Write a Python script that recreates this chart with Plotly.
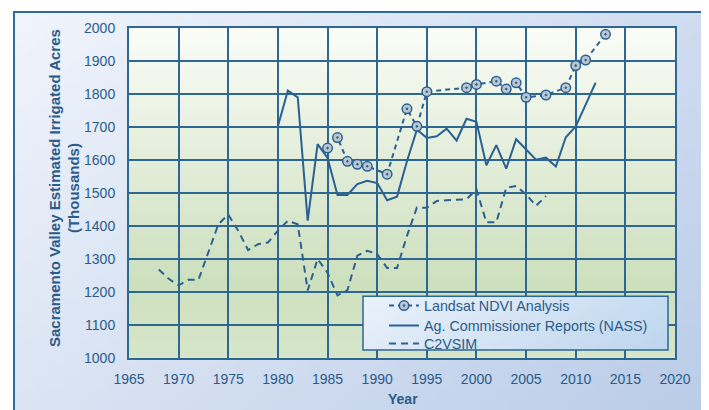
import base64
import struct
import zlib
import plotly.graph_objects as go

# ---------------- data ----------------
landsat_years = [1985, 1986, 1987, 1988, 1989, 1991, 1993, 1994, 1995, 1999,
                 2000, 2002, 2003, 2004, 2005, 2007, 2009, 2010, 2011, 2013]
landsat_acres = [1636, 1668, 1596, 1587, 1581, 1557, 1755, 1702, 1807, 1819,
                 1829, 1839, 1815, 1834, 1790, 1797, 1819, 1886, 1903, 1981]

nass_years = list(range(1980, 2013))
nass_acres = [1702, 1810, 1790, 1416, 1648, 1606, 1494, 1494, 1527, 1537,
              1530, 1478, 1489, 1596, 1692, 1667, 1672, 1695, 1659, 1725,
              1716, 1584, 1645, 1574, 1663, 1631, 1601, 1607, 1580, 1669,
              1702, 1768, 1834]

c2vsim_years = list(range(1968, 2008))
c2vsim_acres = [1268, 1240, 1220, 1237, 1237, 1320, 1405, 1435, 1386, 1327,
                1345, 1350, 1386, 1416, 1405, 1205, 1300, 1258, 1190, 1205,
                1310, 1325, 1315, 1273, 1273, 1370, 1456, 1455, 1476, 1478,
                1480, 1481, 1511, 1411, 1411, 1516, 1521, 1496, 1461, 1491]

x_ticks = [1965, 1970, 1975, 1980, 1985, 1990, 1995, 2000, 2005, 2010, 2015, 2020]
y_ticks = [1000, 1100, 1200, 1300, 1400, 1500, 1600, 1700, 1800, 1900, 2000]

series_names = ["Landsat NDVI Analysis", "Ag. Commissioner Reports (NASS)", "C2VSIM"]

# ---------------- styling helpers ----------------
OFF = 8                      # page body margin offset
W, H = 709 - OFF, 410 - OFF
PL, PR, PT, PB = 129, 675, 26, 358  # plot area in window pixels
FONT = "Liberation Sans, Arial, sans-serif"
BLUE = "#2b6192"
GRID = "#2f6793"
TEXT = "#2b5b88"


def px_x(p):
    return (p - PL) / (PR - PL)


def px_y(p):
    return (PB - p) / (PB - PT)


def lerp(c0, c1, t):
    t = max(0.0, min(1.0, t))
    return tuple(int(round(a + (b - a) * t)) for a, b in zip(c0, c1))


def png_uri(w, h, fn):
    raw = bytearray()
    for j in range(h):
        raw.append(0)
        for i in range(w):
            raw.extend(fn(i / (w - 1), j / (h - 1)))

    def chunk(tag, data):
        c = struct.pack(">I", len(data)) + tag + data
        return c + struct.pack(">I", zlib.crc32(tag + data) & 0xFFFFFFFF)

    png = (b"\x89PNG\r\n\x1a\n"
           + chunk(b"IHDR", struct.pack(">IIBBBBB", w, h, 8, 2, 0, 0, 0))
           + chunk(b"IDAT", zlib.compress(bytes(raw)))
           + chunk(b"IEND", b""))
    return "data:image/png;base64," + base64.b64encode(png).decode()


def paper_grad(u, v):
    return lerp((240, 244, 251), (186, 204, 232), 0.6 * u + 0.4 * v)


def plot_grad(u, v):
    if v < 0.78:
        return lerp((251, 252, 247), (205, 224, 190), v / 0.78)
    return lerp((205, 224, 190), (214, 230, 202), (v - 0.78) / 0.22)


def legend_grad(u, v):
    return lerp((234, 241, 250), (190, 215, 238), 0.8 * u + 0.2 * v)


fig = go.Figure()

fig.add_trace(go.Scatter(
    x=c2vsim_years, y=c2vsim_acres, mode="lines", name=series_names[2],
    line=dict(color=BLUE, width=2, dash="7px,5px"), legend="legend3"))
fig.add_trace(go.Scatter(
    x=nass_years, y=nass_acres, mode="lines", name=series_names[1],
    line=dict(color=BLUE, width=2), legend="legend2"))
fig.add_trace(go.Scatter(
    x=landsat_years, y=landsat_acres, mode="lines+markers", name=series_names[0],
    line=dict(color=BLUE, width=2, dash="5px,4px"),
    marker=dict(symbol="circle-dot", size=9.5, color="#bcc6d0",
                line=dict(color=BLUE, width=1.5)),
    legend="legend"))

# backgrounds
images = [
    dict(source=png_uri(48, 32, paper_grad), xref="paper", yref="paper",
         x=px_x(14), y=px_y(10), sizex=(703 - 14) / (PR - PL),
         sizey=(420 - 10) / (PB - PT), xanchor="left", yanchor="top",
         sizing="stretch", layer="below"),
    dict(source=png_uri(8, 48, plot_grad), xref="paper", yref="paper",
         x=0, y=1, sizex=1, sizey=1, xanchor="left", yanchor="top",
         sizing="stretch", layer="below"),
    dict(source=png_uri(32, 8, legend_grad), xref="paper", yref="paper",
         x=px_x(363), y=px_y(296), sizex=(668 - 363) / (PR - PL),
         sizey=(350 - 296) / (PB - PT), xanchor="left", yanchor="top",
         sizing="stretch", layer="above"),
]

shapes = [
    # outer frame
    dict(type="rect", xref="paper", yref="paper", x0=px_x(14), x1=px_x(703),
         y0=px_y(425), y1=px_y(10), line=dict(color="#2f6a9a", width=2),
         fillcolor="rgba(0,0,0,0)", layer="below"),
    # right shadow
    dict(type="rect", xref="paper", yref="paper", x0=px_x(704), x1=px_x(709),
         y0=px_y(425), y1=px_y(14), line=dict(width=0),
         fillcolor="rgba(150,150,150,0.35)", layer="below"),
    # legend frame
    dict(type="rect", xref="paper", yref="paper", x0=px_x(363), x1=px_x(668),
         y0=px_y(350), y1=px_y(296), line=dict(color=GRID, width=1.5),
         fillcolor="rgba(0,0,0,0)", layer="above"),
]

annotations = [
    dict(text="<b>Sacramento Valley Estimated Irrigated Acres<br>(Thousands)</b>",
         xref="paper", yref="paper", x=px_x(64), y=px_y(187), textangle=-90,
         xanchor="center", yanchor="middle", showarrow=False,
         font=dict(family=FONT, size=15, color=TEXT)),
    dict(text="<b>Year</b>", xref="paper", yref="paper", x=px_x(403), y=px_y(399),
         xanchor="center", yanchor="middle", showarrow=False,
         font=dict(family=FONT, size=14, color=TEXT)),
]


def legend_at(row_y):
    return dict(x=px_x(384), y=px_y(row_y), xanchor="left", yanchor="middle",
                bgcolor="rgba(0,0,0,0)", borderwidth=0,
                font=dict(family=FONT, size=14.3, color=TEXT), itemwidth=30)


fig.update_layout(
    width=W, height=H, autosize=False,
    margin=dict(l=PL - OFF, r=W - (PR - OFF), t=PT - OFF, b=H - (PB - OFF), pad=0),
    paper_bgcolor="white", plot_bgcolor="rgba(0,0,0,0)",
    font=dict(family=FONT, size=14, color=TEXT),
    images=images, shapes=shapes, annotations=annotations,
    showlegend=True,
    legend=legend_at(305.5),
    legend2=legend_at(325.5),
    legend3=legend_at(343.5),
    xaxis=dict(range=[1965, 2020], tickvals=x_ticks, ticktext=[str(v) for v in x_ticks],
               showgrid=True, gridcolor=GRID, gridwidth=2,
               showline=True, linecolor=GRID, linewidth=2, mirror=True,
               zeroline=False, ticks="", ticklabelstandoff=7,
               tickfont=dict(family=FONT, size=14, color=TEXT)),
    yaxis=dict(range=[1000, 2000], tickvals=y_ticks, ticktext=[str(v) for v in y_ticks],
               showgrid=True, gridcolor=GRID, gridwidth=2,
               showline=True, linecolor=GRID, linewidth=2, mirror=True,
               zeroline=False, ticks="", ticklabelstandoff=9,
               tickfont=dict(family=FONT, size=14, color=TEXT)),
)

fig.write_html("out.html")
